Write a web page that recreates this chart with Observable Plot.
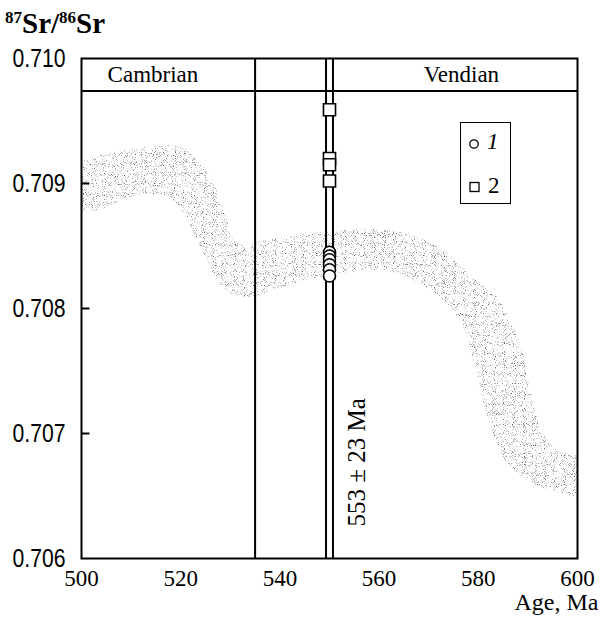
<!DOCTYPE html>
<html>
<head>
<meta charset="utf-8">
<script src="https://cdn.jsdelivr.net/npm/d3@7"></script>
<script src="https://cdn.jsdelivr.net/npm/@observablehq/plot@0.6"></script>
<style>
  html, body { margin: 0; padding: 0; background: white; }
  #wrap { position: relative; width: 601px; height: 619px; }
  #title { position: absolute; left: 5px; top: 8px; font-family: "Liberation Serif", "Times New Roman", serif; font-weight: bold; font-size: 29px; line-height: 30px; }
  #title sup { font-size: 17px; vertical-align: 10px; line-height: 0; }
  #legend { position: absolute; left: 460px; top: 122px; width: 51px; height: 82px; border: 1.6px solid black; box-sizing: border-box; background: white; }
  #legend .lab { position: absolute; font-family: "Liberation Serif", "Times New Roman", serif; font-size: 23px; font-style: italic; }
  svg g[aria-label^="x-axis"] text { font-family: "Liberation Serif", "Times New Roman", serif !important; font-size: 23px !important; font-variant: normal !important; }
</style>
</head>
<body>
<div id="wrap">
  <div id="chart"></div>
  <div id="title"><sup>87</sup>Sr/<sup>86</sup>Sr</div>
  <div id="legend">
    <svg width="51" height="82" style="position:absolute;left:0;top:0">
      <circle cx="13" cy="21" r="4.2" fill="white" stroke="black" stroke-width="1.3"></circle>
      <rect x="9" y="59.5" width="9" height="9" fill="white" stroke="black" stroke-width="1.3"></rect>
    </svg>
    <span class="lab" style="left:26px;top:6px;">1</span>
    <span class="lab" style="left:27px;top:50px;font-style:normal;">2</span>
  </div>
</div>
<script>
// ---- data ----
const xTicks = [500, 520, 540, 560, 580, 600];
const yTicks = [0.706, 0.707, 0.708, 0.709, 0.710];
const yInnerTicks = [0.707, 0.708, 0.709];

// stippled band (upper and lower edges of the seawater Sr curve)
const bandTopAge = [500, 503.8, 509.9, 514.9, 519.4, 522.0, 524.6, 527.4, 529.4, 530.6, 533.5, 536.1, 540.1, 544.2, 550.2, 560.3, 566.9, 573.8, 579.0, 583.9, 586.5, 588.5, 589.9, 591.1, 593.1, 596.0, 600];
const bandTopVal = [0.709168, 0.709224, 0.709272, 0.709296, 0.709296, 0.709248, 0.709128, 0.708944, 0.708704, 0.70856, 0.708496, 0.708536, 0.70856, 0.708584, 0.708616, 0.708632, 0.708584, 0.70844, 0.708248, 0.708088, 0.707904, 0.70772, 0.70748, 0.707264, 0.707, 0.706864, 0.706824];
const bandBotAge = [500, 503.8, 509.3, 513.9, 517.9, 521.4, 524.0, 527.4, 530.0, 533.5, 536.1, 538.7, 544.2, 550.2, 560.3, 566.9, 572.4, 576.4, 578.4, 579.8, 581.0, 583.1, 585.9, 589.1, 592.5, 596.6, 600];
const bandBotVal = [0.708768, 0.708784, 0.70888, 0.708912, 0.708888, 0.708704, 0.708488, 0.708224, 0.70812, 0.708088, 0.708104, 0.708144, 0.708208, 0.708264, 0.708304, 0.708224, 0.708088, 0.707904, 0.707688, 0.70748, 0.707264, 0.707, 0.70676, 0.706648, 0.706568, 0.70652, 0.706488];

const boundaryAges = [535, 549.3, 550.7];
const periodNames = ["Cambrian", "Vendian"];
const periodLabelAges = [514.4, 576.6];
const headerBottom = 0.70974;
const headerMid = 0.70987;

const sampleAge = 550;
const circleVals = [0.70845, 0.70842, 0.70839, 0.70835, 0.70831, 0.70826]; // series 1
const squareVals = [0.70959, 0.70920, 0.70915, 0.70902];                   // series 2

const ageText = ["553 ± 23 Ma"];
const ageTextAge = 555.6;
const ageTextVal = 0.70677;

// ---- chart ----
const serif = '"Liberation Serif", "Times New Roman", serif';
const bandIdx = d3.range(bandTopAge.length);

const plot = Plot.plot({
  width: 601,
  height: 619,
  marginLeft: 81,
  marginRight: 24,
  marginTop: 58,
  marginBottom: 61,
  style: { background: "white", color: "black", fontFamily: serif },
  x: { domain: [500, 600], ticks: xTicks, tickSize: 0, tickPadding: 11, tickFormat: d3.format("d"), label: null },
  y: { domain: [0.706, 0.710], ticks: yTicks, tickSize: 0, tickPadding: 16, tickFormat: d3.format(".3f"), label: null },
  marks: [
    Plot.area(bandIdx, {
      x1: i => bandBotAge[i], y1: i => bandBotVal[i],
      x2: i => bandTopAge[i], y2: i => bandTopVal[i],
      fill: "#555", curve: "catmull-rom"
    }),
    Plot.ruleY([headerBottom], { strokeWidth: 2 }),
    Plot.ruleX(boundaryAges, { strokeWidth: 2 }),
    Plot.ruleY(yInnerTicks, { x1: 500, x2: 501.7, strokeWidth: 2 }),
    Plot.text(periodNames, { x: (d, i) => periodLabelAges[i], y: () => headerMid, fontSize: 23, fontFamily: serif, fill: "black" }),
    Plot.dot(squareVals, { x: () => sampleAge, y: d => d, symbol: "square", r: 6.8, fill: "white", stroke: "black", strokeWidth: 1.6 }),
    Plot.dot(circleVals, { x: () => sampleAge, y: d => d, r: 6, fill: "white", stroke: "black", strokeWidth: 1.6 }),
    Plot.text(ageText, { x: () => ageTextAge, y: () => ageTextVal, rotate: -90, fontSize: 25, fontFamily: serif, fill: "black" }),
    Plot.text(["Age, Ma"], { frameAnchor: "bottom-right", dx: 21, dy: 51, textAnchor: "end", fontSize: 24, fontFamily: serif, fill: "black" }),
    Plot.frame({ strokeWidth: 2 })
  ]
});

// stipple texture for the band
const ns = "http://www.w3.org/2000/svg";
const defs = document.createElementNS(ns, "defs");
defs.innerHTML = `
  <filter id="stip" filterUnits="userSpaceOnUse" x="0" y="0" width="601" height="619" color-interpolation-filters="sRGB">
    <feTurbulence type="fractalNoise" baseFrequency="1.1" numOctaves="1" seed="7" result="noise"/>
    <feColorMatrix in="noise" type="matrix" values="0 0 0 0 0.35  0 0 0 0 0.35  0 0 0 0 0.35  4.5 0 0 0 -2.5" result="dots"/>
    <feComposite in="dots" in2="SourceGraphic" operator="in"/>
  </filter>`;
plot.insertBefore(defs, plot.firstChild);
const areaG = plot.querySelector('g[aria-label="area"]');
if (areaG) areaG.setAttribute("filter", "url(#stip)");

// axis fonts
const sansNarrow = '"Liberation Sans Narrow", "Liberation Sans", Arial, sans-serif';
plot.querySelectorAll('[aria-label^="y-axis"] text').forEach(t => {
  t.style.fontFamily = sansNarrow;
  t.style.fontSize = "25px";
  t.setAttribute("textLength", "53");
  t.setAttribute("lengthAdjust", "spacingAndGlyphs");
});
plot.querySelectorAll('[aria-label^="x-axis"]').forEach(g => {
  g.setAttribute("font-family", serif);
  g.style.setProperty("font-family", serif, "important");
  g.querySelectorAll("text").forEach(t => {
    t.setAttribute("font-family", serif);
    t.style.setProperty("font-family", serif, "important");
    t.style.setProperty("font-size", "23px", "important");
  });
});

document.getElementById("chart").appendChild(plot);
</script>
</body>
</html>
